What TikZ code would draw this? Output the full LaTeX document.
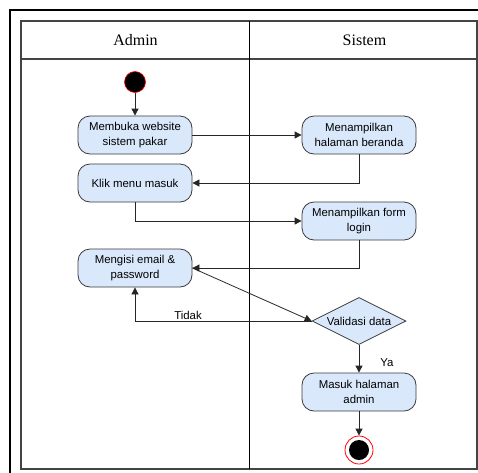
\documentclass[tikz,border=0pt]{standalone}
\usepackage{fontspec}
\setmainfont{Liberation Serif}
\newfontfamily\sansf{Liberation Sans}
\usetikzlibrary{arrows.meta,shapes.geometric}
\definecolor{nodeblue}{HTML}{DAE8FC}
\definecolor{nodeline}{HTML}{3A3A3A}
\definecolor{frameline}{HTML}{444444}
\begin{document}
\begin{tikzpicture}[x=1pt,y=-1pt,
  act/.style={rectangle, rounded corners=12pt, draw=nodeline, line width=0.8pt, fill=nodeblue,
    minimum width=114pt, minimum height=38pt, align=center, inner sep=0pt,
    font=\sansf\fontsize{11.4}{14.5}\selectfont},
  lbl/.style={font=\sansf\fontsize{11.4}{14.5}\selectfont, inner sep=1pt},
  hdr/.style={font=\fontsize{16}{19}\selectfont},
  arr/.style={-{Triangle[length=7pt,width=7pt]}, line width=0.8pt, draw=black!85}]
\useasboundingbox (0,0) rectangle (478,472);
% outer frame
\draw[line width=2.2pt] (10,490) -- (10,10) -- (495,10);
% inner frame and lanes
\draw[frameline, line width=1.5pt] (21,21) rectangle (477,469);
\draw[frameline, line width=1.2pt] (21,59) -- (477,59);
\draw[black, line width=0.8pt] (249,21) -- (249,469);
\node[hdr] (hA) at (135.5,40) {Admin};
\node[hdr] (hS) at (364.5,40) {Sistem};
% nodes
\node[circle, fill=black, draw=red, line width=0.6pt, minimum size=21pt, inner sep=0pt] (start) at (135,82) {};
\node[act] (m1) at (135,135) {Membuka website\\sistem pakar};
\node[act] (s1) at (359,135) {Menampilkan\\halaman beranda};
\node[act] (k) at (135,183) {Klik menu masuk};
\node[act] (s2) at (359,221) {Menampilkan form\\login};
\node[act] (m2) at (135,268) {Mengisi email \&\\password};
\node[diamond, draw=nodeline, line width=0.8pt, fill=nodeblue, minimum width=94pt, minimum height=47pt, inner sep=0pt, aspect=2] (val) at (359,321) {};
\node[lbl] (valt) at (val.center) {Validasi data};
\node[act] (ma) at (359,392) {Masuk halaman\\admin};
\node[circle, draw=red, line width=0.8pt, fill=white, minimum size=28pt, inner sep=0pt] (end) at (359,450) {};
\fill[black] (end.center) circle (10pt);
% connectors
\draw[arr] (start) -- (m1);
\draw[arr] (m1) -- (s1);
\draw[arr] (s1.south) |- (k.east);
\draw[arr] (k.south) |- (s2.west);
\draw[arr] (s2.south) |- (m2.east);
\draw[arr] (m2.east) -- (val.west);
\draw[arr] (val.west) -| node[lbl, pos=0.35, above] {Tidak} (m2.south);
\draw[arr] (val.south) -- (ma.north);
\node[lbl] (ya) at (387,363) {Ya};
\draw[arr] (ma.south) -- (end.north);
\end{tikzpicture}
\end{document}
